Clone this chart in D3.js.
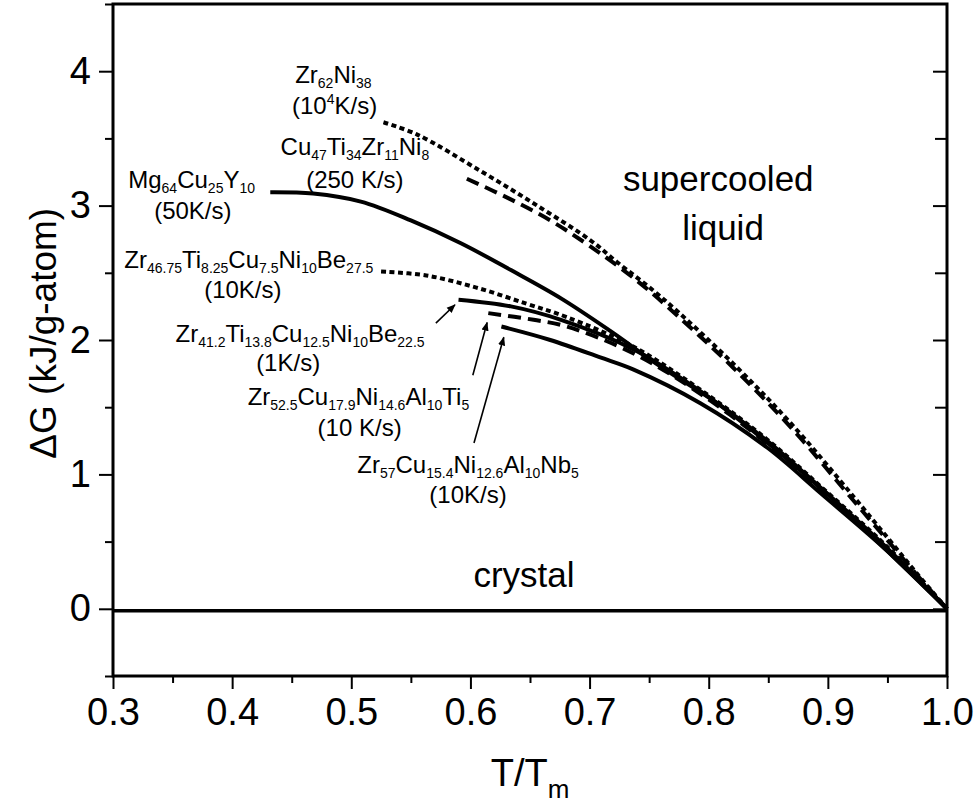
<!DOCTYPE html>
<html>
<head>
<meta charset="utf-8">
<script src="https://cdn.jsdelivr.net/npm/d3@7"></script>
<style>
  body { margin: 0; background: #fff; }
  svg { display: block; font-family: Arial, "Liberation Sans", Helvetica, sans-serif; }
</style>
</head>
<body>
<svg id="chart" width="974" height="807"></svg>
<script>
// ΔG between supercooled liquid and crystal vs reduced temperature T/Tm
const zr62Ni38 = [[0.527,3.62],[0.555,3.53],[0.608,3.26],[0.656,3.00],[0.701,2.74],[0.723,2.58],[0.76,2.32],[0.821,1.82],[0.871,1.36],[0.922,0.83],[0.95,0.53],[0.975,0.26],[1.0,0.0]];
const cu47Ti34Zr11Ni8 = [[0.597,3.20],[0.633,3.05],[0.667,2.89],[0.70,2.70],[0.74,2.44],[0.78,2.13],[0.821,1.79],[0.871,1.33],[0.922,0.80],[0.95,0.51],[0.975,0.25],[1.0,0.0]];
const mg64Cu25Y10 = [[0.432,3.10],[0.468,3.09],[0.508,3.03],[0.55,2.89],[0.592,2.72],[0.634,2.52],[0.676,2.31],[0.717,2.07],[0.76,1.80],[0.807,1.53],[0.85,1.23],[0.90,0.85],[0.95,0.43],[1.0,0.0]];
const zr4675 = [[0.525,2.51],[0.563,2.48],[0.605,2.39],[0.647,2.27],[0.681,2.17],[0.737,1.95],[0.793,1.63],[0.849,1.26],[0.894,0.91],[0.95,0.46],[1.0,0.0]];
const zr412 = [[0.590,2.30],[0.634,2.25],[0.676,2.15],[0.737,1.93],[0.793,1.62],[0.849,1.25],[0.894,0.90],[0.95,0.45],[1.0,0.0]];
const zr525 = [[0.615,2.20],[0.653,2.15],[0.681,2.10],[0.737,1.90],[0.793,1.60],[0.849,1.23],[0.894,0.88],[0.95,0.44],[1.0,0.0]];
const zr57 = [[0.626,2.10],[0.667,2.00],[0.709,1.87],[0.737,1.78],[0.793,1.53],[0.849,1.20],[0.894,0.86],[0.95,0.43],[1.0,0.0]];
const crystal = [[0.3,-0.015],[1.0,-0.015]];

const xTicks = [0.3,0.4,0.5,0.6,0.7,0.8,0.9,1.0];
const xMinor = [0.35,0.45,0.55,0.65,0.75,0.85,0.95];
const yTicks = [0,1,2,3,4];
const yMinor = [-0.5,0.5,1.5,2.5,3.5,4.5];

// curve styles: "solid", "dot", "dash"
const series = [
  { data: zr62Ni38, style: 'dot' },
  { data: cu47Ti34Zr11Ni8, style: 'dash' },
  { data: mg64Cu25Y10, style: 'solid' },
  { data: zr4675, style: 'dot' },
  { data: zr412, style: 'solid' },
  { data: zr525, style: 'dash' },
  { data: zr57, style: 'solid' }
];

// label text (with _{sub} and ^{sup}) anchored at [T/Tm, ΔG]
const labels = [
  { t: 'Zr_{62}Ni_{38}', at: [0.485, 3.915] },
  { t: '(10^{4}K/s)', at: [0.486, 3.680] },
  { t: 'Cu_{47}Ti_{34}Zr_{11}Ni_{8}', at: [0.503, 3.373] },
  { t: '(250 K/s)', at: [0.503, 3.130] },
  { t: 'Mg_{64}Cu_{25}Y_{10}', at: [0.366, 3.128] },
  { t: '(50K/s)', at: [0.367, 2.900] },
  { t: 'Zr_{46.75}Ti_{8.25}Cu_{7.5}Ni_{10}Be_{27.5}', at: [0.414, 2.533] },
  { t: '(10K/s)', at: [0.409, 2.313] },
  { t: 'Zr_{41.2}Ti_{13.8}Cu_{12.5}Ni_{10}Be_{22.5}', at: [0.457, 1.984] },
  { t: '(1K/s)', at: [0.447, 1.771] },
  { t: 'Zr_{52.5}Cu_{17.9}Ni_{14.6}Al_{10}Ti_{5}', at: [0.506, 1.516] },
  { t: '(10 K/s)', at: [0.507, 1.288] },
  { t: 'Zr_{57}Cu_{15.4}Ni_{12.6}Al_{10}Nb_{5}', at: [0.598, 1.010] },
  { t: '(10K/s)', at: [0.598, 0.790] }
];
const regionLabels = [
  { t: 'supercooled', at: [0.808, 3.105] },
  { t: 'liquid', at: [0.812, 2.741] },
  { t: 'crystal', at: [0.645, 0.163] }
];
const arrows = [
  { from: [0.571, 2.125], to: [0.587, 2.262] },
  { from: [0.602, 1.738], to: [0.614, 2.13] },
  { from: [0.603, 1.233], to: [0.628, 2.02] }
];

const margin = { top: 4, right: 27, bottom: 131, left: 113 };
const width = 974 - margin.left - margin.right;
const height = 807 - margin.top - margin.bottom;

const svg = d3.select('#chart');
const g = svg.append('g').attr('transform', `translate(${margin.left},${margin.top})`);

const x = d3.scaleLinear().domain([0.3, 1.0]).range([0, width]);
const y = d3.scaleLinear().domain([-0.5, 4.5]).range([height, 0]);

svg.append('defs').append('marker')
    .attr('id', 'head')
    .attr('viewBox', '0 0 10 10')
    .attr('refX', 9).attr('refY', 5)
    .attr('markerWidth', 9).attr('markerHeight', 9)
    .attr('markerUnits', 'userSpaceOnUse')
    .attr('orient', 'auto')
  .append('path')
    .attr('d', 'M0,1 L10,5 L0,9 Z')
    .attr('fill', '#000');

// axes
const styleAxis = sel => {
  sel.select('.domain').remove();
  sel.selectAll('line').attr('stroke', '#000').attr('stroke-width', 2);
};

g.append('g').attr('transform', `translate(0,${height})`)
    .call(d3.axisBottom(x).tickValues(xTicks).tickSize(13).tickPadding(9).tickFormat(d3.format('.1f')))
    .call(styleAxis)
    .call(a => a.selectAll('text').attr('font-size', 38).attr('font-family', 'Arial, Liberation Sans, sans-serif').attr('fill', '#000'));
g.append('g').attr('transform', `translate(0,${height})`)
    .call(d3.axisBottom(x).tickValues(xMinor).tickSize(7).tickFormat(''))
    .call(styleAxis);

g.append('g')
    .call(d3.axisLeft(y).tickValues(yTicks).tickSize(14).tickPadding(8).tickFormat(d3.format('d')))
    .call(styleAxis)
    .call(a => a.selectAll('text').attr('font-size', 38).attr('font-family', 'Arial, Liberation Sans, sans-serif').attr('fill', '#000'));
g.append('g')
    .call(d3.axisLeft(y).tickValues(yMinor).tickSize(8).tickFormat(''))
    .call(styleAxis);

g.append('g').attr('transform', `translate(${width},0)`)
    .call(d3.axisRight(y).tickValues(yTicks).tickSize(-14).tickFormat(''))
    .call(styleAxis);
g.append('g').attr('transform', `translate(${width},0)`)
    .call(d3.axisRight(y).tickValues(yMinor.slice(1, -1)).tickSize(-12).tickFormat(''))
    .call(styleAxis);

// frame
g.append('rect')
    .attr('width', width).attr('height', height)
    .attr('fill', 'none').attr('stroke', '#000').attr('stroke-width', 3);

// curves
const line = d3.line()
    .x(d => x(d[0]))
    .y(d => y(d[1]))
    .curve(d3.curveCatmullRom.alpha(0.5));

const dashes = { solid: null, dot: '5,3.5', dash: '13,7' };

g.append('path')
    .datum(crystal)
    .attr('d', line)
    .attr('fill', 'none')
    .attr('stroke', '#000')
    .attr('stroke-width', 3.5);

g.append('g')
  .selectAll('path')
  .data(series)
  .join('path')
    .attr('d', d => line(d.data))
    .attr('fill', 'none')
    .attr('stroke', '#000')
    .attr('stroke-width', 4)
    .attr('stroke-dasharray', d => dashes[d.style]);

// arrows
g.append('g')
  .selectAll('line')
  .data(arrows)
  .join('line')
    .attr('x1', d => x(d.from[0])).attr('y1', d => y(d.from[1]))
    .attr('x2', d => x(d.to[0])).attr('y2', d => y(d.to[1]))
    .attr('stroke', '#000')
    .attr('stroke-width', 1.6)
    .attr('marker-end', 'url(#head)');

// labels with sub/superscripts
function addRich(text, s, subSize = 14, subDrop = 5) {
  const parts = s.split(/(_\{[^}]*\}|\^\{[^}]*\})/).filter(p => p.length);
  let shift = 0;
  parts.forEach(p => {
    let target = 0, str = p, small = false;
    if (p.startsWith('_{')) { target = subDrop; str = p.slice(2, -1); small = true; }
    else if (p.startsWith('^{')) { target = -10; str = p.slice(2, -1); small = true; }
    const ts = text.append('tspan').attr('dy', target - shift).text(str);
    if (small) ts.attr('font-size', subSize);
    shift = target;
  });
}

g.append('g')
    .attr('font-size', 24)
    .attr('text-anchor', 'middle')
  .selectAll('text')
  .data(labels)
  .join('text')
    .attr('x', d => x(d.at[0]))
    .attr('y', d => y(d.at[1]))
    .each(function (d) { addRich(d3.select(this), d.t); });

g.append('g')
    .attr('font-size', 35)
    .attr('text-anchor', 'middle')
  .selectAll('text')
  .data(regionLabels)
  .join('text')
    .attr('x', d => x(d.at[0]))
    .attr('y', d => y(d.at[1]))
    .text(d => d.t);

// axis titles
const xTitle = svg.append('text')
    .attr('x', margin.left + width / 2)
    .attr('y', 786)
    .attr('font-size', 38)
    .attr('text-anchor', 'middle');
addRich(xTitle, 'T/T_{m}', 26, 12);

svg.append('text')
    .attr('transform', `translate(56,${margin.top + y(2.05)}) rotate(-90)`)
    .attr('font-size', 37)
    .attr('text-anchor', 'middle')
    .text('ΔG (kJ/g-atom)');
</script>
</body>
</html>
